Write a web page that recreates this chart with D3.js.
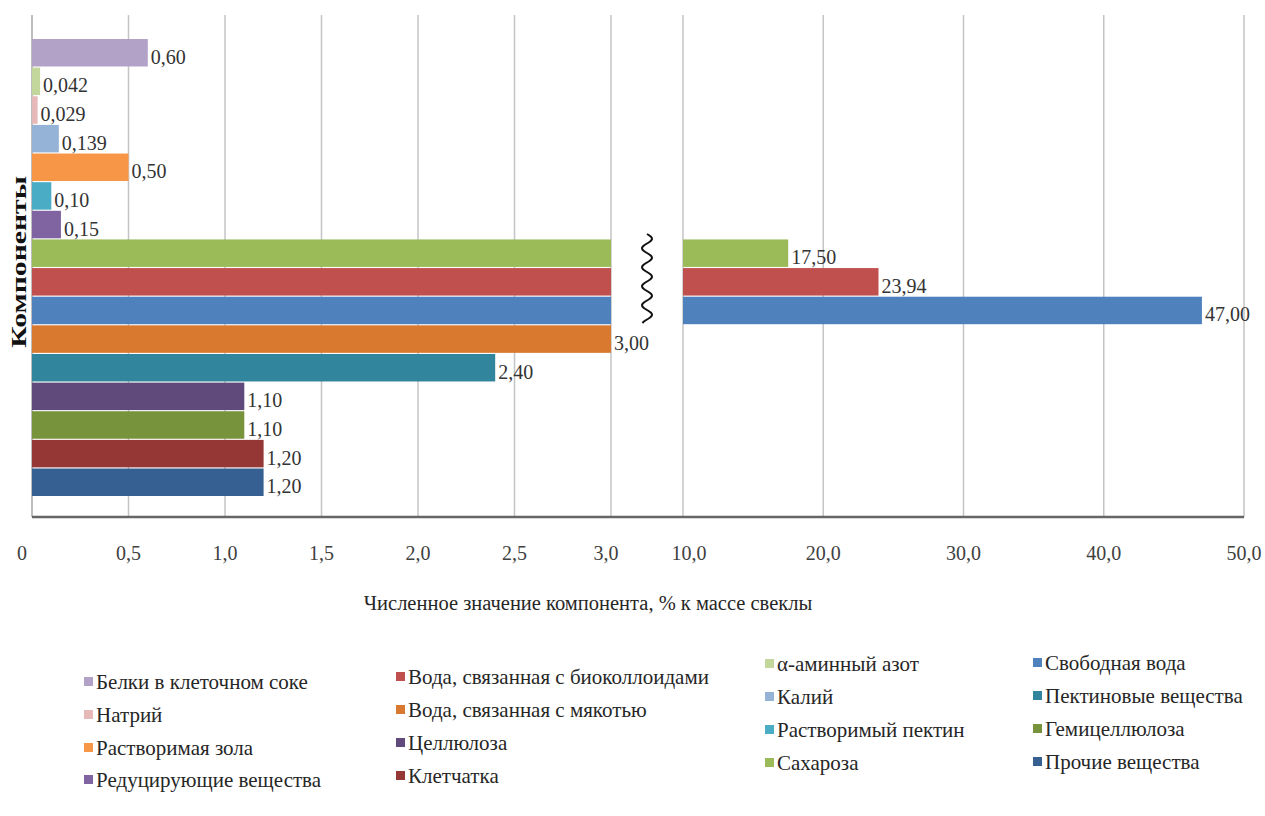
<!DOCTYPE html>
<html>
<head>
<meta charset="utf-8">
<script src="https://cdn.jsdelivr.net/npm/d3@7"></script>
<style>
  html, body { margin: 0; padding: 0; background: #fff; }
  svg { display: block; }
</style>
</head>
<body>
<svg id="chart" width="1265" height="816"></svg>
<script>
// Components of sugar beet, % of beet mass (bars from top to bottom)
const components = [
  "Белки в клеточном соке",
  "α-аминный азот",
  "Натрий",
  "Калий",
  "Растворимая зола",
  "Растворимый пектин",
  "Редуцирующие вещества",
  "Сахароза",
  "Вода, связанная с биоколлоидами",
  "Свободная вода",
  "Вода, связанная с мякотью",
  "Пектиновые вещества",
  "Целлюлоза",
  "Гемицеллюлоза",
  "Клетчатка",
  "Прочие вещества"
];
const values = [0.60, 0.042, 0.029, 0.139, 0.50, 0.10, 0.15, 17.50, 23.94, 47.00, 3.00, 2.40, 1.10, 1.10, 1.20, 1.20];
const decimals = [2, 3, 3, 3, 2, 2, 2, 2, 2, 2, 2, 2, 2, 2, 2, 2];
const colors = [
  "#b3a2c7", "#c3d69b", "#e6b9b8", "#95b3d7", "#f79646", "#4bacc6", "#8064a2", "#9bbb59",
  "#c0504d", "#4f81bd", "#d9782f", "#31859c", "#604a7b", "#77933c", "#953735", "#376092"
];

// Legend columns (component names, read top to bottom in each column)
const legendColumns = [
  ["Белки в клеточном соке", "Натрий", "Растворимая зола", "Редуцирующие вещества"],
  ["Вода, связанная с биоколлоидами", "Вода, связанная с мякотью", "Целлюлоза", "Клетчатка"],
  ["α-аминный азот", "Калий", "Растворимый пектин", "Сахароза"],
  ["Свободная вода", "Пектиновые вещества", "Гемицеллюлоза", "Прочие вещества"]
];

// Broken value axis: low segment and high segment
const lowDomain = [0, 3];
const highDomain = [10, 50];
const lowTicks = [0, 0.5, 1.0, 1.5, 2.0, 2.5, 3.0];
const highTicks = [10, 20, 30, 40, 50];

const xTitle = "Численное значение компонента, % к массе свеклы";
const yTitle = "Компоненты";

const FONT = '"Liberation Serif"';
const svg = d3.select("#chart");
const fmt = (v, d) => v.toFixed(d).replace(".", ",");

const plotTop = 15, plotBottom = 517;
const xLow = d3.scaleLinear().domain(lowDomain).range([32, 611]);
const xHigh = d3.scaleLinear().domain(highDomain).range([683, 1244]);
const y = d3.scaleBand().domain(components).range([39, 496]).paddingInner(0.04);
const colorOf = d3.scaleOrdinal().domain(components).range(colors);

// Vertical gridlines
const grid = svg.append("g");
lowTicks.slice(1).forEach(t => {
  grid.append("line").attr("x1", xLow(t)).attr("x2", xLow(t))
    .attr("y1", plotTop).attr("y2", plotBottom)
    .attr("stroke", "#c4c4c4").attr("stroke-width", 1.5);
});
highTicks.forEach(t => {
  grid.append("line").attr("x1", xHigh(t)).attr("x2", xHigh(t))
    .attr("y1", plotTop).attr("y2", plotBottom)
    .attr("stroke", "#c4c4c4").attr("stroke-width", 1.5);
});
// Category axis line
grid.append("line").attr("x1", xLow(0)).attr("x2", xLow(0))
  .attr("y1", plotTop).attr("y2", plotBottom)
  .attr("stroke", "#a8a8a8").attr("stroke-width", 1.5);

const data = components.map((c, i) => ({ name: c, value: values[i], dec: decimals[i] }));

// Bars in the low segment (clipped at the break)
svg.append("g").selectAll("rect").data(data).join("rect")
  .attr("x", xLow(0))
  .attr("y", d => y(d.name))
  .attr("width", d => xLow(Math.min(d.value, lowDomain[1])) - xLow(0))
  .attr("height", y.bandwidth())
  .attr("fill", d => colorOf(d.name));

// Bars continuing in the high segment
const big = data.filter(d => d.value > highDomain[0]);
svg.append("g").selectAll("rect").data(big).join("rect")
  .attr("x", xHigh(highDomain[0]))
  .attr("y", d => y(d.name))
  .attr("width", d => xHigh(d.value) - xHigh(highDomain[0]))
  .attr("height", y.bandwidth())
  .attr("fill", d => colorOf(d.name));

// Value labels
svg.append("g").selectAll("text").data(data).join("text")
  .attr("x", d => (d.value > highDomain[0] ? xHigh(d.value) : xLow(d.value)) + 3)
  .attr("y", d => y(d.name) + y.bandwidth() / 2 + 4)
  .attr("dominant-baseline", "central")
  .attr("font-size", 20)
  .attr("fill", "#333")
  .style("font-family", FONT)
  .text(d => fmt(d.value, d.dec));

// Axis break mark (wavy line)
const waveX = 647, waveTop = 234, waveBottom = 323, amp = 5, period = 19;
const wavePts = d3.range(waveTop, waveBottom + 0.5, 1).map(yy => [waveX + amp * Math.sin((yy - waveTop) / period * 2 * Math.PI), yy]);
svg.append("path").attr("d", d3.line()(wavePts))
  .attr("fill", "none").attr("stroke", "#111").attr("stroke-width", 2);

// Value axis line
svg.append("line").attr("x1", xLow(0)).attr("x2", xHigh(highDomain[1]))
  .attr("y1", plotBottom).attr("y2", plotBottom)
  .attr("stroke", "#666").attr("stroke-width", 2.5);

// Tick labels
const tickG = svg.append("g").attr("fill", "#404040").attr("text-anchor", "middle");
const nudgeLow = t => (t === 0 ? -10 : t === lowDomain[1] ? -5 : 0);
lowTicks.forEach(t => {
  tickG.append("text").attr("x", xLow(t) + nudgeLow(t)).attr("y", plotBottom + 43)
    .attr("font-size", 20).style("font-family", FONT)
    .text(t === 0 ? "0" : fmt(t, 1));
});
highTicks.forEach(t => {
  tickG.append("text").attr("x", xHigh(t) + (t === highDomain[0] ? 6 : 0)).attr("y", plotBottom + 43)
    .attr("font-size", 20).style("font-family", FONT)
    .text(fmt(t, 1));
});

// Axis titles
svg.append("text").attr("x", 588).attr("y", 610).attr("text-anchor", "middle")
  .attr("font-size", 20.5).attr("fill", "#262626").style("font-family", FONT).text(xTitle);
svg.append("text").attr("transform", "translate(26,262) rotate(-90) scale(1.35,1)")
  .attr("text-anchor", "middle").attr("font-size", 22).attr("font-weight", "bold")
  .attr("fill", "#111").style("font-family", FONT).text(yTitle);

// Legend (4 columns x 4 rows)
const legendX = [84, 396, 765, 1033];
const legendY = [[682, 715, 748, 780], [677, 710, 743, 776], [664, 697, 730, 763], [663, 696, 729, 762]];
const legend = svg.append("g");
legendColumns.forEach((col, ci) => {
  col.forEach((name, ri) => {
    const gx = legendX[ci], gy = legendY[ci][ri];
    legend.append("rect").attr("x", gx).attr("y", gy - 5).attr("width", 9).attr("height", 9)
      .attr("fill", colorOf(name));
    legend.append("text").attr("x", gx + 12).attr("y", gy).attr("dominant-baseline", "central")
      .attr("font-size", 21).attr("fill", "#262626").style("font-family", FONT).text(name);
  });
});
</script>
</body>
</html>
